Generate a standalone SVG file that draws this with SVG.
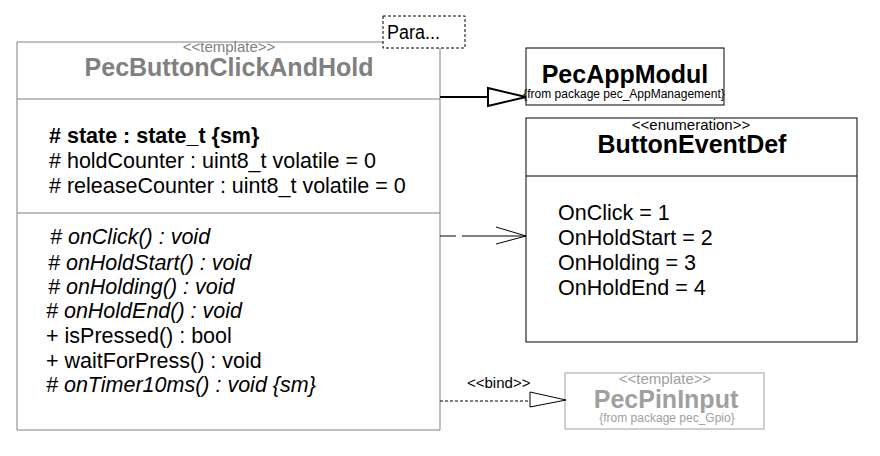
<svg xmlns="http://www.w3.org/2000/svg" width="880" height="456" viewBox="0 0 880 456">
<style>
text{font-family:"Liberation Sans",Arial,sans-serif;fill:#000}
.st{font-size:15px}
.nm{font-size:25px;font-weight:bold}
.it{font-size:21.5px}
.i{font-style:italic}
.b{font-weight:bold}
.gray{fill:#808080}
.lg{fill:#a0a0a0}
.pkg{font-size:12px}
.box{fill:#fff;stroke:#000;stroke-width:1}
</style>
<rect width="880" height="456" fill="#fff"/>
<g id="PecButtonClickAndHold">
<path d="M383 42 H17 V430 H440 V48" fill="#fff" stroke="#808080"/>
<line x1="17" y1="99" x2="440" y2="99" stroke="#808080"/>
<line x1="17" y1="213" x2="440" y2="213" stroke="#808080"/>
<text x="229" y="52" class="st gray" text-anchor="middle">&lt;&lt;template&gt;&gt;</text>
<text x="229" y="76" class="nm gray" text-anchor="middle">PecButtonClickAndHold</text>
<text x="49" y="143" class="it b"># state : state_t {sm}</text>
<text x="49" y="168" class="it"># holdCounter : uint8_t volatile = 0</text>
<text x="49" y="193" class="it"># releaseCounter : uint8_t volatile = 0</text>
<text x="50" y="244" class="it i"># onClick() : void</text>
<text x="48" y="270" class="it i"># onHoldStart() : void</text>
<text x="48" y="294" class="it i"># onHolding() : void</text>
<text x="46" y="318" class="it i"># onHoldEnd() : void</text>
<text x="46" y="343" class="it">+ isPressed() : bool</text>
<text x="46" y="368" class="it">+ waitForPress() : void</text>
<text x="46" y="392" class="it i"># onTimer10ms() : void {sm}</text>
<rect x="383" y="16" width="82" height="32" fill="#fff" stroke="#000" stroke-dasharray="3,2"/>
<text x="387" y="39" style="font-size:20px" textLength="53" lengthAdjust="spacingAndGlyphs">Para...</text>
</g>
<g id="PecAppModul">
<rect x="526" y="48" width="198" height="57" class="box"/>
<text x="625" y="83" class="nm" text-anchor="middle">PecAppModul</text>
<text x="624" y="98" class="pkg" text-anchor="middle">{from package pec_AppManagement}</text>
</g>
<g id="ButtonEventDef">
<rect x="526" y="118" width="331" height="224" class="box"/>
<line x1="526" y1="176" x2="857" y2="176" stroke="#000"/>
<text x="691" y="130" class="st" text-anchor="middle">&lt;&lt;enumeration&gt;&gt;</text>
<text x="692" y="153" class="nm" text-anchor="middle">ButtonEventDef</text>
<text x="558" y="220" class="it">OnClick = 1</text>
<text x="558" y="245" class="it">OnHoldStart = 2</text>
<text x="558" y="270" class="it">OnHolding = 3</text>
<text x="558" y="295" class="it">OnHoldEnd = 4</text>
</g>
<g id="PecPinInput">
<rect x="565" y="373" width="199" height="56" fill="#fff" stroke="#a0a0a0"/>
<text x="665" y="384" class="st lg" text-anchor="middle">&lt;&lt;template&gt;&gt;</text>
<text x="666" y="408" class="nm lg" text-anchor="middle">PecPinInput</text>
<text x="667" y="422" class="pkg lg" text-anchor="middle">{from package pec_Gpio}</text>
</g>
<g id="connectors" fill="none" stroke="#000">
<line x1="440" y1="97" x2="488" y2="97" stroke-width="2"/>
<polygon points="488,88 526,97 488,106" fill="#fff" stroke-width="2"/>
<line x1="440" y1="236" x2="456" y2="236"/>
<line x1="462" y1="236" x2="526" y2="236"/>
<polyline points="496,227 526,236 496,244"/>
<line x1="440" y1="401" x2="530" y2="401" stroke-dasharray="3,2"/>
<polygon points="530,392 566,400 530,407" fill="#fff"/>
<text x="467" y="388" class="st" stroke="none">&lt;&lt;bind&gt;&gt;</text>
</g>
</svg>
